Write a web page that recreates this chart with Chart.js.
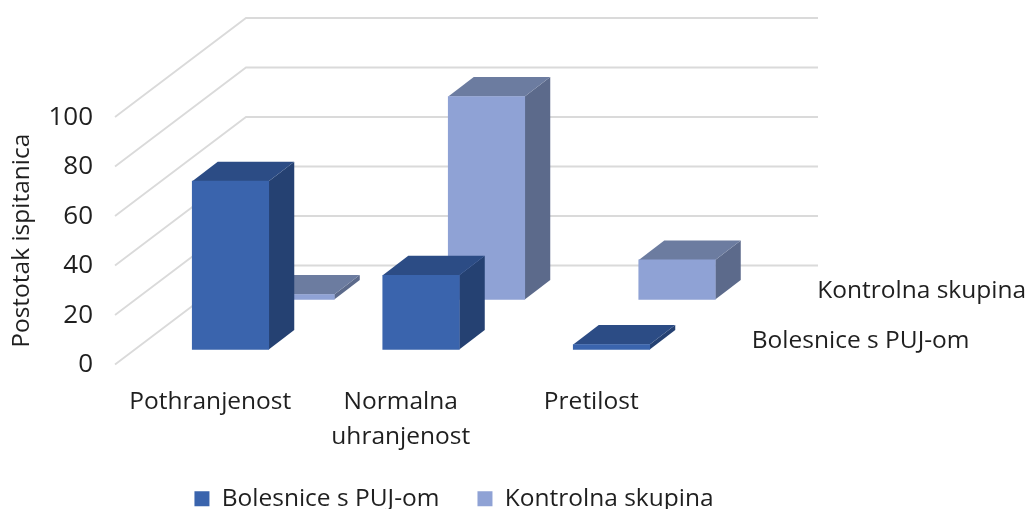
<!DOCTYPE html>
<html><head><meta charset="utf-8">
<style>html,body{margin:0;padding:0;background:#fff}canvas{display:block;filter:blur(0.35px)}</style>
<script src="https://cdn.jsdelivr.net/npm/chart.js@4"></script></head>
<body><canvas id="c" width="1025" height="509"></canvas>
<script>
const categories = ['Pothranjenost', ['Normalna', 'uhranjenost'], 'Pretilost'];
const bolesnice = [68, 30, 2];
const kontrolna = [2, 82, 16];
const seriesNames = ['Bolesnice s PUJ-om', 'Kontrolna skupina'];
const yAxisTitle = 'Postotak ispitanica';
const fontFamily = '"Open Sans", "Noto Sans", sans-serif';
const textSize = 24.5;
const textColor = '#1F1F1F';

const wall = {dx: 131, dy: -99};
const rows = [{dx: 20.25, dy: -15}, {dx: 85.75, dy: -65}];
const depth = {dx: 25.5, dy: -19.5};
const palette = [
  {front: '#3A64AD', top: '#2C4C85', side: '#254172'},
  {front: '#8FA2D5', top: '#6C7CA0', side: '#5C6A8B'}
];

const threeD = {
  id: 'threeD',
  afterLayout(chart) {
    chart.legend.left = 0;
    chart.legend.right = 908;
    chart.legend.top += 12;
    chart.scales.x.bottom = chart.height;
  },
  beforeDatasetsDraw(chart) {
    const {ctx, chartArea: a, scales: {y}} = chart;
    ctx.save();
    ctx.strokeStyle = '#DADADA';
    ctx.lineWidth = 1.8;
    y.ticks.forEach(t => {
      const p = y.getPixelForValue(t.value);
      ctx.beginPath();
      ctx.moveTo(a.left, p);
      ctx.lineTo(a.left + wall.dx, p + wall.dy);
      ctx.lineTo(a.right + wall.dx + .5, p + wall.dy);
      ctx.stroke();
    });
    ctx.restore();
  },
  beforeDatasetDraw(chart, args) {
    const {ctx} = chart;
    const r = rows[args.index], c = palette[args.index];
    ctx.save();
    ctx.translate(r.dx, r.dy);
    args.meta.data.forEach(el => {
      const l = el.x - el.width / 2, rt = el.x + el.width / 2;
      ctx.fillStyle = c.side;
      ctx.beginPath();
      ctx.moveTo(rt, el.y); ctx.lineTo(rt + depth.dx, el.y + depth.dy);
      ctx.lineTo(rt + depth.dx, el.base + depth.dy); ctx.lineTo(rt, el.base);
      ctx.closePath(); ctx.fill();
      ctx.fillStyle = c.top;
      ctx.beginPath();
      ctx.moveTo(l, el.y); ctx.lineTo(l + depth.dx, el.y + depth.dy);
      ctx.lineTo(rt + depth.dx, el.y + depth.dy); ctx.lineTo(rt, el.y);
      ctx.closePath(); ctx.fill();
    });
  },
  afterDatasetDraw(chart) { chart.ctx.restore(); },
  afterDatasetsDraw(chart) {
    const {ctx, chartArea: a, scales: {y}} = chart;
    ctx.save();
    ctx.font = textSize + 'px ' + fontFamily;
    ctx.fillStyle = textColor;
    ctx.textBaseline = 'middle';
    chart.data.datasets.forEach((d, i) => {
      ctx.fillText(d.label, a.right + rows[i].dx + 45, y.getPixelForValue(0) + rows[i].dy - 8);
    });
    ctx.restore();
  }
};

new Chart(document.getElementById('c'), {
  type: 'bar',
  data: {
    labels: categories,
    datasets: [bolesnice, kontrolna].map((values, i) => ({
      label: seriesNames[i],
      data: values,
      backgroundColor: palette[i].front,
      grouped: false,
      clip: false,
      barThickness: 76.5
    }))
  },
  plugins: [threeD],
  options: {
    responsive: false,
    animation: false,
    layout: {padding: {top: 117, right: 338.5, left: 0, bottom: 0}},
    plugins: {
      tooltip: {enabled: false},
      legend: {
        position: 'bottom',
        labels: {boxWidth: 15, boxHeight: 15, padding: 38, color: textColor, font: {family: fontFamily, size: textSize}}
      }
    },
    scales: {
      x: {
        grid: {display: false, drawTicks: false},
        border: {display: false},
        afterFit(s) { s.height = 144 - 72; },
        ticks: {maxRotation: 0, autoSkip: false, padding: 20, color: textColor,
                font: {family: fontFamily, size: textSize, lineHeight: 1.43}}
      },
      y: {
        min: 0, max: 100,
        grid: {display: false, drawTicks: false},
        border: {display: false},
        afterFit(s) { s.width = 115; },
        title: {display: true, text: yAxisTitle, color: textColor, padding: {top: 7, bottom: 0},
                font: {family: fontFamily, size: 24.5}},
        ticks: {stepSize: 20, padding: 22, labelOffset: 0.5, color: textColor,
                font: {family: fontFamily, size: 26}}
      }
    }
  }
});
</script></body></html>
